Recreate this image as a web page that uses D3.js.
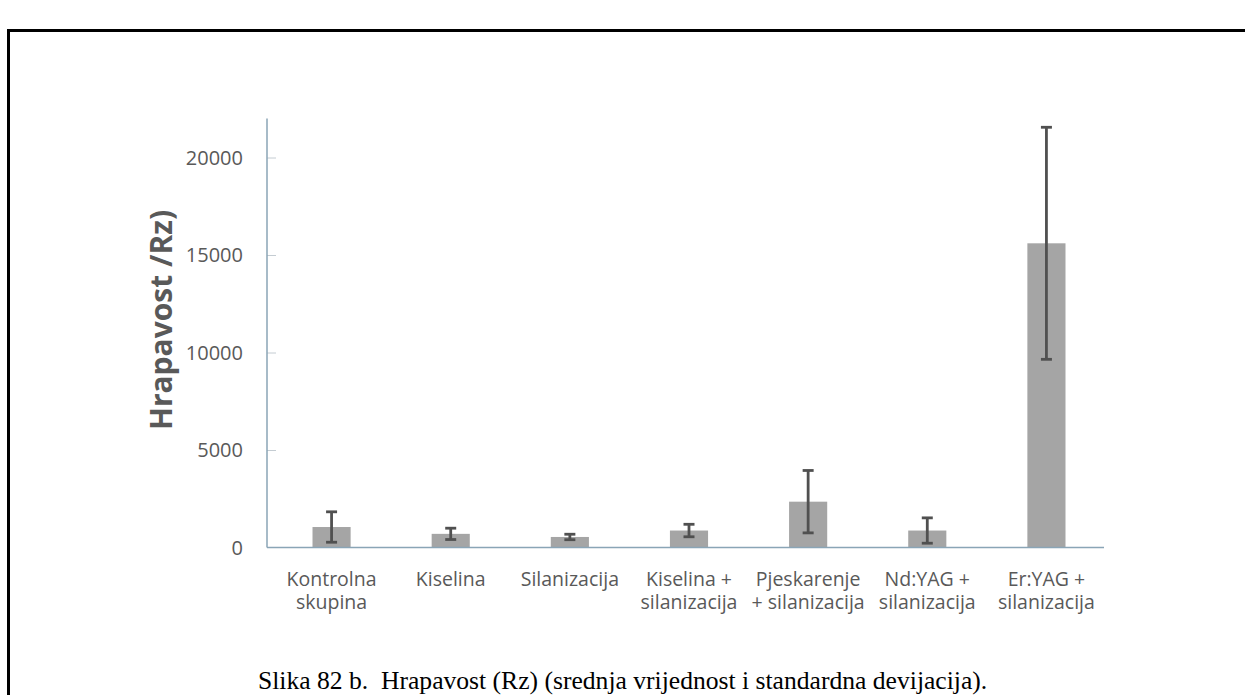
<!DOCTYPE html>
<html>
<head>
<meta charset="utf-8">
<script src="https://cdn.jsdelivr.net/npm/d3@7/dist/d3.min.js"></script>
<style>
  html, body { margin: 0; padding: 0; background: #fff; }
  svg { display: block; }
</style>
</head>
<body>
<div id="chart"></div>
<script>
// Category labels (each line of the wrapped label)
const categories = [
  ['Kontrolna', 'skupina'],
  ['Kiselina'],
  ['Silanizacija'],
  ['Kiselina +', 'silanizacija'],
  ['Pjeskarenje', '+ silanizacija'],
  ['Nd:YAG +', 'silanizacija'],
  ['Er:YAG +', 'silanizacija']
];
// Mean roughness (Rz) and standard deviation
const means = [1050, 700, 540, 870, 2350, 870, 15600];
const sds = [780, 290, 140, 320, 1600, 650, 5950];
const yTicks = [0, 5000, 10000, 15000, 20000];
const yTitle = 'Hrapavost /Rz)';
const caption = 'Slika 82 b.  Hrapavost (Rz) (srednja vrijednost i standardna devijacija).';

const totalW = 1245, totalH = 695;
const plot = { left: 267, right: 1104, top: 118.5, bottom: 547.5 };

const svg = d3.select('#chart').append('svg')
  .attr('width', totalW).attr('height', totalH);

// Frame around the figure (top and left edges are visible)
svg.append('path')
  .attr('d', `M8.5,${totalH} L8.5,30.5 L${totalW},30.5`)
  .attr('fill', 'none').attr('stroke', '#000').attr('stroke-width', 3);

const idx = categories.map((d, i) => i);
const x = d3.scaleBand().domain(idx).range([272, 1106]).paddingInner(0.68).paddingOuter(0.34);
const y = d3.scaleLinear().domain([0, 22000]).range([plot.bottom, plot.top]);

const g = svg.append('g');

// Y axis: ticks drawn inward, labels on the left
const yAxis = g.append('g').attr('transform', `translate(${plot.left},0)`)
  .call(d3.axisRight(y).tickValues(yTicks.filter(d => d > 0)).tickSize(9).tickFormat(''));
yAxis.select('.domain').remove();
yAxis.selectAll('line').attr('stroke', '#c4ccd2').attr('stroke-width', 1);

g.append('g').selectAll('text')
  .data(yTicks).enter().append('text')
  .attr('x', 243).attr('y', d => y(d))
  .attr('dy', '0.35em')
  .attr('text-anchor', 'end')
  .attr('fill', '#595959')
  .attr('font-family', "'Open Sans', sans-serif").attr('font-size', '20px')
  .text(d => d);

g.append('line')
  .attr('x1', plot.left).attr('x2', plot.left)
  .attr('y1', plot.top).attr('y2', plot.bottom)
  .attr('stroke', '#8aa5b6').attr('stroke-width', 1.5);

// Bars
g.append('g').selectAll('rect')
  .data(idx).enter().append('rect')
  .attr('x', i => x(i)).attr('width', x.bandwidth())
  .attr('y', i => y(means[i])).attr('height', i => y(0) - y(means[i]))
  .attr('fill', '#a5a5a5');

// X axis line
g.append('line')
  .attr('x1', plot.left).attr('x2', plot.right)
  .attr('y1', plot.bottom).attr('y2', plot.bottom)
  .attr('stroke', '#8aa5b6').attr('stroke-width', 1.5);

// Error bars
const err = g.append('g').attr('stroke', '#505050').attr('stroke-width', 2.8);
idx.forEach(i => {
  const cx = x(i) + x.bandwidth() / 2;
  const hi = y(means[i] + sds[i]);
  const lo = y(Math.max(0, means[i] - sds[i]));
  err.append('line').attr('x1', cx).attr('x2', cx).attr('y1', hi).attr('y2', lo);
  err.append('line').attr('x1', cx - 5.5).attr('x2', cx + 5.5).attr('y1', hi).attr('y2', hi);
  err.append('line').attr('x1', cx - 5.5).attr('x2', cx + 5.5).attr('y1', lo).attr('y2', lo);
});

// Category labels, one text per line
const labG = g.append('g')
  .attr('fill', '#595959')
  .attr('font-family', "'Open Sans', sans-serif").attr('font-size', '19.5px')
  .attr('text-anchor', 'middle');
idx.forEach(i => {
  const cx = x(i) + x.bandwidth() / 2;
  categories[i].forEach((t, k) => {
    labG.append('text')
      .attr('x', cx).attr('y', 586 + k * 23)
      .text(t);
  });
});

// Y axis title
g.append('text')
  .attr('transform', `translate(172,320) rotate(-90)`)
  .attr('text-anchor', 'middle')
  .attr('fill', '#595959')
  .attr('font-family', "'Open Sans', sans-serif").attr('font-size', '30px').attr('font-weight', '700')
  .text(yTitle);

// Caption
svg.append('text')
  .attr('x', 258).attr('y', 689)
  .attr('fill', '#000')
  .attr('font-family', "'Liberation Serif', 'Times New Roman', serif").attr('font-size', '25.6px')
  .style('white-space', 'pre')
  .text(caption);
</script>
</body>
</html>
